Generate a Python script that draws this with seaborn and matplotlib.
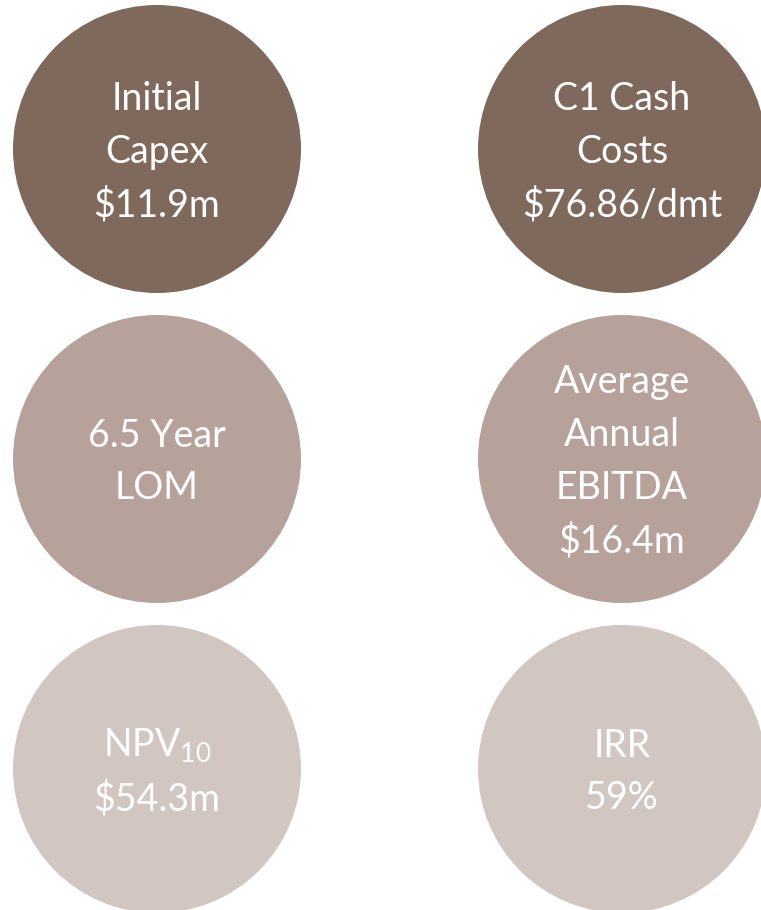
import matplotlib
matplotlib.use("Agg")
import matplotlib.pyplot as plt
import seaborn as sns
import pandas as pd

# metric cards, read row by row (left, right)
labels = [
    "Initial\nCapex\n$11.9m",
    "C1 Cash\nCosts\n$76.86/dmt",
    "6.5 Year\nLOM",
    "Average\nAnnual\nEBITDA\n$16.4m",
    "NPV$_{10}$\n$54.3m",
    "IRR\n59%",
]
cols = [0, 1, 0, 1, 0, 1]
rows = [0, 0, 1, 1, 2, 2]
tiers = ["dark", "dark", "mid", "mid", "light", "light"]

sns.set_style("white")
plt.rcParams["font.family"] = ["Lato", "DejaVu Sans"]
plt.rcParams["mathtext.fontset"] = "custom"
plt.rcParams["mathtext.rm"] = "Lato"
plt.rcParams["mathtext.it"] = "Lato"

df = pd.DataFrame({"label": labels, "col": cols, "row": rows, "tier": tiers})
df["x"] = 157 + df["col"] * 465
df["y"] = 149 + df["row"] * 310

palette = {"dark": "#7f685c", "mid": "#b6a29b", "light": "#d1c6c0"}

fig = plt.figure(figsize=(7.61, 9.10), dpi=100)
ax = fig.add_axes([0, 0, 1, 1])
diam_pt = 288 * 72 / 100
sns.scatterplot(data=df, x="x", y="y", hue="tier", palette=palette,
                s=diam_pt ** 2, linewidth=0, legend=False, ax=ax)

for _, r in df.iterrows():
    ax.text(r["x"], r["y"] + 3, r["label"], ha="center", va="center",
            color="white", fontsize=27, linespacing=1.58)

ax.set_xlim(0, 761)
ax.set_ylim(910, 0)
ax.set_aspect("equal")
ax.axis("off")
fig.savefig("out.png", dpi=100, facecolor="white")
